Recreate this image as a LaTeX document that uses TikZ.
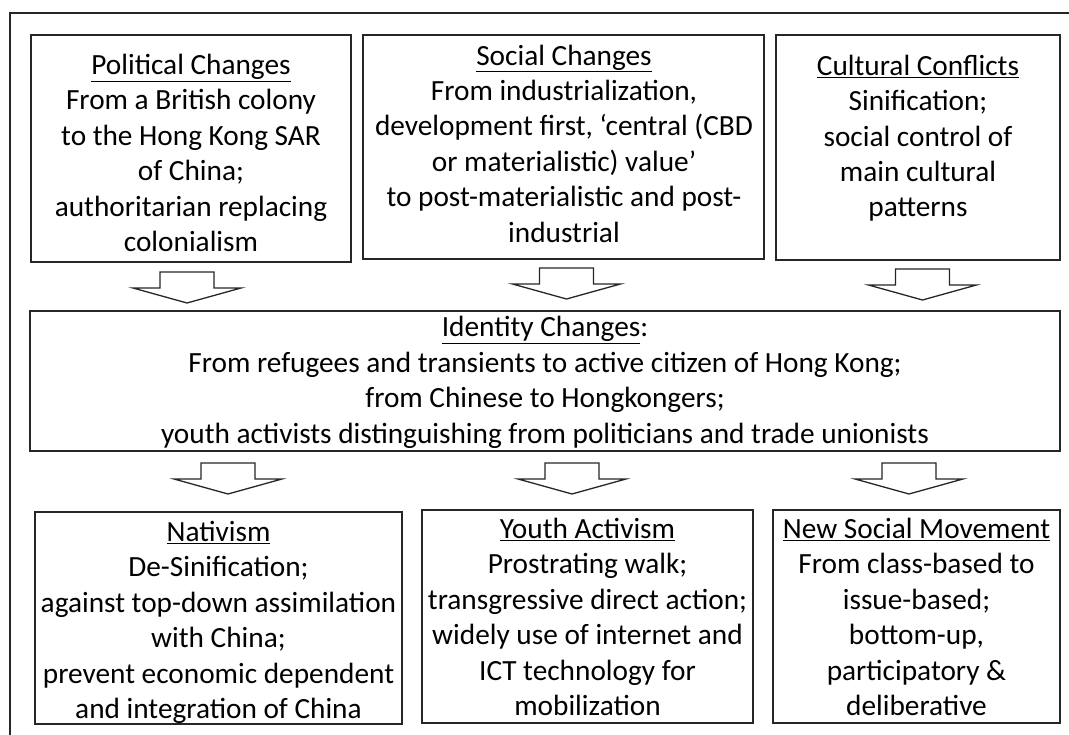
\documentclass[tikz,border=0pt]{standalone}
\usepackage{fontspec}
\setmainfont{Carlito}
\begin{document}
\begin{tikzpicture}[x=1pt,y=-1pt,
  box/.style={draw=black!85, line width=1.5pt, rectangle, inner sep=0pt},
  txt/.style={align=center, inner sep=0pt, font=\fontsize{29.3}{35.4}\selectfont},
  arrowline/.style={draw=black!85, line width=1.3pt, fill=white, line join=miter},
  blockarrow/.pic={\draw[arrowline] (-27,0) -- (27,0) -- (27,16) -- (54,16) -- (0,31) -- (-54,16) -- (-27,16) -- cycle;}]
\useasboundingbox (0,0) rectangle (1069,735);
% outer frame (cropped)
\draw[draw=black!85, line width=1.5pt] (1069,13) -- (10,13) -- (10,735);
% top boxes
\node[box, minimum width=320pt, minimum height=227pt] (pol) at (191,148.5) {};
\node[box, minimum width=401pt, minimum height=224pt] (soc) at (563.5,147) {};
\node[box, minimum width=284pt, minimum height=225pt] (cul) at (918,147.5) {};
\node[txt] (polt) at (191,156) {\strut\underline{Political Changes}\\From a British colony\\to the Hong Kong SAR\\of China;\\authoritarian replacing\\colonialism\strut};
\node[txt] (soct) at (564,146.5) {\strut\underline{Social Changes}\\From industrialization,\\development first, ‘central (CBD\\or materialistic) value’\\to post-materialistic and post-\\industrial\strut};
\node[txt] (cult) at (918,139) {\strut\underline{Cultural Conflicts}\\Sinification;\\social control of\\main cultural\\patterns\strut};
% top arrows
\pic at (187,272) {blockarrow};
\pic at (566.5,268) {blockarrow};
\pic at (922.5,269) {blockarrow};
% identity box
\node[box, minimum width=1030pt, minimum height=140pt] (ide) at (545,381) {};
\node[txt] (idet) at (545,383) {\strut\underline{Identity Changes}:\\From refugees and transients to active citizen of Hong Kong;\\from Chinese to Hongkongers;\\youth activists distinguishing from politicians and trade unionists\strut};
% bottom arrows
\pic at (228,463) {blockarrow};
\pic at (572,463) {blockarrow};
\pic at (909,463) {blockarrow};
% bottom boxes
\node[box, minimum width=367pt, minimum height=212pt] (nat) at (218.5,618) {};
\node[box, minimum width=331pt, minimum height=213pt] (you) at (587.5,616.5) {};
\node[box, minimum width=287pt, minimum height=213pt] (nsm) at (916.5,616.5) {};
\node[txt] (natt) at (218.5,623) {\strut\underline{Nativism}\\De-Sinification;\\against top-down assimilation\\with China;\\prevent economic dependent\\and integration of China\strut};
\node[txt] (yout) at (587.5,620) {\strut\underline{Youth Activism}\\Prostrating walk;\\transgressive direct action;\\widely use of internet and\\ICT technology for\\mobilization\strut};
\node[txt] (nsmt) at (916.5,620) {\strut\underline{New Social Movement}\\From class-based to\\issue-based;\\bottom-up,\\participatory \&\\deliberative\strut};
\end{tikzpicture}
\end{document}
